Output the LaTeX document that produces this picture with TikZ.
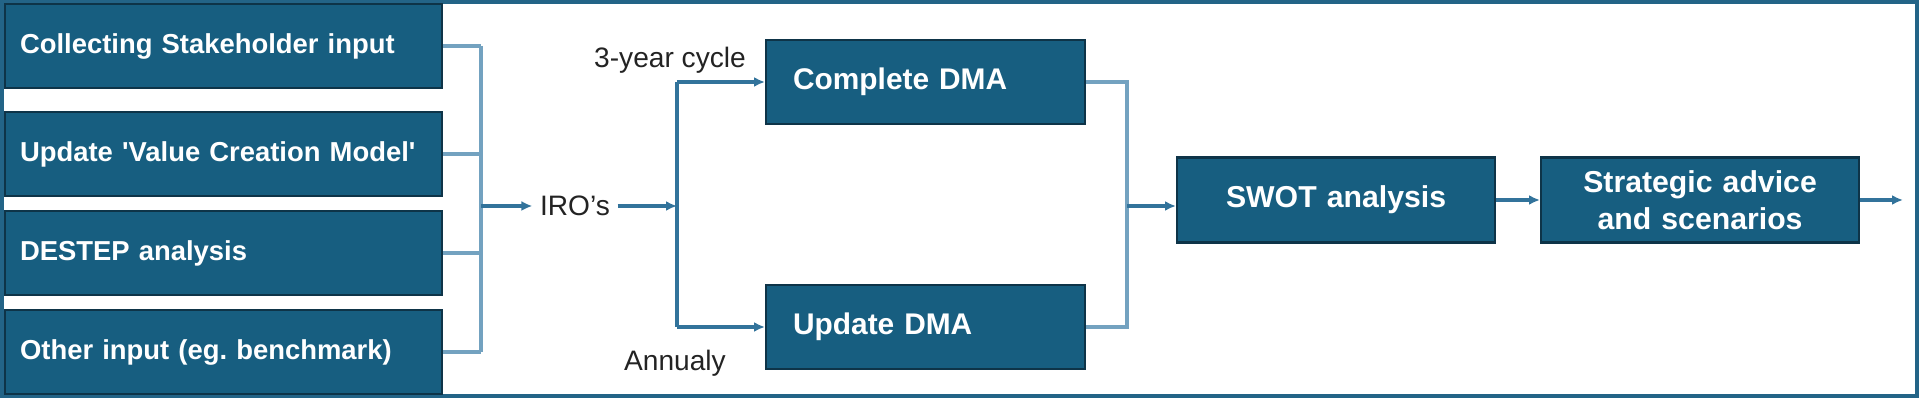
\documentclass[tikz,border=0pt]{standalone}
\usepackage{fontspec}
\setmainfont{Liberation Sans}
\usetikzlibrary{arrows.meta}
\definecolor{boxblue}{RGB}{23,94,128}
\definecolor{boxedge}{RGB}{14,52,72}
\definecolor{linelight}{RGB}{115,162,192}
\definecolor{linedark}{RGB}{50,115,155}
\definecolor{framec}{RGB}{35,100,135}
\definecolor{labelgray}{RGB}{35,35,35}
\tikzset{
  inbox/.style={draw=boxedge, line width=0.6pt, fill=boxblue, text=white,
    font=\fontsize{7.8}{9}\selectfont\bfseries, anchor=west, align=left,
    text width=4.07cm, inner xsep=0.15cm, minimum height=0.84cm},
  dmabox/.style={draw=boxedge, line width=0.6pt, fill=boxblue, text=white,
    font=\fontsize{8.5}{10.5}\selectfont\bfseries, anchor=west, align=left,
    text width=2.65cm, inner xsep=0.27cm, minimum height=0.84cm},
  stepbox/.style={draw=boxedge, line width=0.6pt, fill=boxblue, text=white,
    font=\fontsize{8.6}{10.6}\selectfont\bfseries, anchor=west, align=center,
    text width=2.9cm, inner xsep=0.14cm, minimum height=0.85cm},
  lbl/.style={text=labelgray, font=\fontsize{8}{9}\selectfont, inner sep=0.07cm},
  link/.style={draw=linelight, line width=0.9pt},
  arr/.style={draw=linedark, line width=0.9pt, -{Latex[length=1.1mm,width=1mm]}},
}
\begin{document}
\begin{tikzpicture}
    \useasboundingbox (0,0) rectangle (19.2,3.99);
    % Frame
    \draw[framec, line width=1pt] (0.02,0.03) rectangle (19.17,3.97);

    % Input boxes
    \node[inbox] (stake) at (0.04,3.53) {Collecting Stakeholder input};
    \node[inbox] (vcm) at (0.04,2.45) {Update \textquotesingle Value Creation Model\textquotesingle};
    \node[inbox] (destep) at (0.04,1.46) {DESTEP analysis};
    \node[inbox] (other) at (0.04,0.47) {Other input (eg.\ benchmark)};

    % IRO's and the two DMA routes
    \node[lbl] (iro) at (5.75,1.93) {IRO’s};
    \node[dmabox] (cdma) at (7.65,3.17) {Complete DMA};
    \node[dmabox] (udma) at (7.65,0.72) {Update DMA};
    \node[lbl, anchor=base] (cyc) at (6.70,3.31) {3-year cycle};
    \node[lbl, anchor=base] (ann) at (6.75,0.28) {Annualy};

    % Output boxes
    \node[stepbox] (swot) at (11.76,1.99) {SWOT analysis};
    \node[stepbox] (strat) at (15.40,1.99) {Strategic advice\\and scenarios};

    \coordinate (b1) at (4.81,1.93);
    \coordinate (b2) at (6.77,1.93);
    \coordinate (b3) at (11.27,1.93);
    \coordinate (out) at (19.03,1.99);

    % Left bracket
    \foreach \n in {stake, vcm, destep, other}
        \draw[link] (\n.east) -- (\n.east -| b1);
    \draw[link] (stake.east -| b1) -- (other.east -| b1);
    \draw[arr] (b1) -- (iro.west);

    % Split to DMA
    \draw[arr] (iro.east) -- (b2);
    \draw[linedark, line width=0.9pt] (cdma.west -| b2) -- (udma.west -| b2);
    \draw[arr] (cdma.west -| b2) -- (cdma.west);
    \draw[arr] (udma.west -| b2) -- (udma.west);

    % Join to SWOT
    \draw[link] (cdma.east) -- (cdma.east -| b3) -- (udma.east -| b3) -- (udma.east);
    \draw[arr] (b3) -- (b3 -| swot.west);
    \draw[arr] (swot.east) -- (strat.west);
    \draw[arr] (strat.east) -- (out);
\end{tikzpicture}
\end{document}
